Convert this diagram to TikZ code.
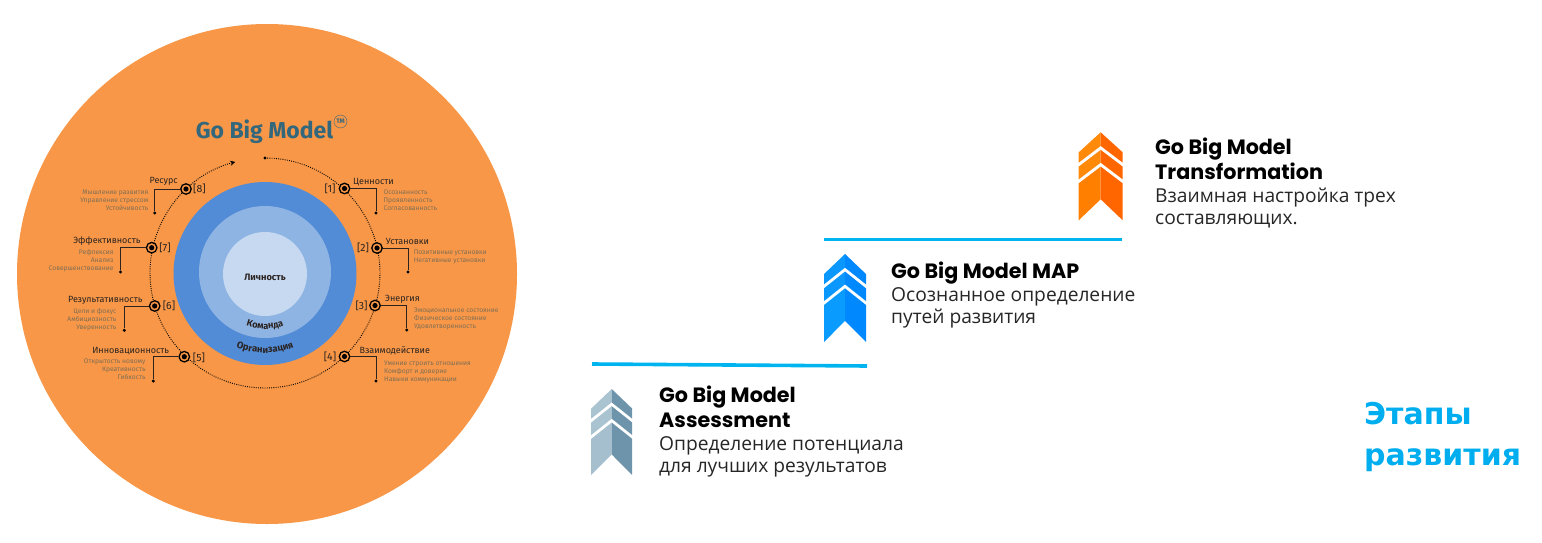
\documentclass[tikz,border=0pt]{standalone}
\usepackage{fontspec}
\usetikzlibrary{decorations.text,arrows.meta}
\setmainfont{Open Sans}
\newfontfamily\modelfont{Fira Sans}
\newfontfamily\headfont{Poppins}
\newfontfamily\stagesfont{DejaVu Sans}
\definecolor{disc}{HTML}{F89747}
\definecolor{orgblue}{HTML}{528BD6}
\definecolor{teamblue}{HTML}{8EB4E3}
\definecolor{selfblue}{HTML}{C6D9F1}
\definecolor{modelteal}{HTML}{33677C}
\definecolor{labeldark}{HTML}{2A2320}
\definecolor{subgray}{HTML}{7F6E55}
\definecolor{ruleblue}{HTML}{00B4F0}
\definecolor{stagesblue}{HTML}{00AEEF}
\definecolor{graytop}{HTML}{A9C3D1}
\definecolor{graydark}{HTML}{6E94AB}
\definecolor{graylow}{HTML}{A5BFCE}
\definecolor{bluetop}{HTML}{0A98FF}
\definecolor{bluedark}{HTML}{0088FF}
\definecolor{bluelow}{HTML}{0A9BFF}
\definecolor{orangetop}{HTML}{FF8A0A}
\definecolor{orangedark}{HTML}{FF6600}
\definecolor{orangelow}{HTML}{FF8000}
\tikzset{
    target/.style={circle,draw=black,line width=1.3pt,fill=disc,inner sep=0pt,minimum size=10.5pt,
        path picture={\fill[black] (path picture bounding box.center) circle (2.6);}},
    enddot/.style={circle,fill=black,inner sep=0pt,minimum size=3.4pt},
    numlabel/.style={font=\modelfont\fontsize{10.5}{12}\selectfont,text=labeldark,inner sep=0pt},
    mainlabel/.style={font=\modelfont\fontsize{9}{11}\selectfont,text=labeldark,inner sep=0pt},
    sublabel/.style={font=\modelfont\fontsize{6.7}{8}\selectfont,text=subgray,inner sep=0pt},
    leader/.style={draw=labeldark,line width=0.6pt},
    headtext/.style={font=\headfont\bfseries\fontsize{20.7}{24.5}\selectfont,text=black,inner sep=0pt,align=left},
    bodytext/.style={font=\fontsize{19.2}{22}\selectfont,text=black!85,inner sep=0pt,align=left},
    steprule/.style={draw=ruleblue,line width=3.6pt}
}
% one stack of three chevrons: apex x, apex y, half width, height, colours
\newcommand{\chevrons}[7]{
    \begin{scope}[shift={(#1,#2)},x=#3pt,y=-#4pt]
        \fill[#5] (0,0) -- (-1,0.228) -- (-1,0.345) -- (0,0.155) -- cycle;
        \fill[#6] (0,0) -- (1,0.228) -- (1,0.345) -- (0,0.155) -- cycle;
        \fill[#5] (0,0.2) -- (-1,0.39) -- (-1,0.535) -- (0,0.345) -- cycle;
        \fill[#6] (0,0.2) -- (1,0.39) -- (1,0.535) -- (0,0.345) -- cycle;
        \fill[#7] (0,0.39) -- (-1,0.58) -- (-1,1) -- (0,0.761) -- cycle;
        \fill[#6] (0,0.39) -- (1,0.58) -- (1,1) -- (0,0.761) -- cycle;
    \end{scope}
}
\begin{document}
\begin{tikzpicture}[x=1pt,y=-1pt]
    \useasboundingbox (0,0) rectangle (1542,543);

    \fill[disc] (267,274) circle (250);
    \fill[orgblue] (265,273.5) circle (91.5);
    \fill[teamblue] (265,272) circle (66);
    \fill[selfblue] (265,274) circle (42);

    \node[font=\modelfont\bfseries\fontsize{9.3}{10}\selectfont,text=labeldark,inner sep=0pt] (self) at (265,277) {Личность};
    \path[postaction={decorate},decoration={text along path,text align=center,
        text={|\modelfont\bfseries\fontsize{9.3}{10}\selectfont\color{labeldark}|Команда}}]
        (265,274) ++(135:55) arc (135:45:55);
    \path[postaction={decorate},decoration={text along path,text align=center,
        text={|\modelfont\bfseries\fontsize{9.5}{10}\selectfont\color{labeldark}|Организация}}]
        (265,274) ++(130:79) arc (130:50:79);

    \node[font=\modelfont\bfseries\fontsize{23}{26}\selectfont,text=modelteal,inner sep=0pt] (model) at (264.5,132) {Go Big Model};
    \node[circle,draw=modelteal,line width=0.4pt,inner sep=0pt,minimum size=13pt,
        font=\modelfont\bfseries\fontsize{6.5}{7}\selectfont,text=modelteal] (tm) at (340.5,121.5) {TM};

    % dotted ring with the eight points on it
    \node[enddot] (ringstart) at (265,158) {};
    \draw[line width=0.9pt,dash pattern=on 0.9pt off 1.3pt,-{Stealth[length=5pt,width=5pt]}]
        (ringstart.center) arc (-90:255:115);

    \node[target] (t1) at (344.5,188.5) {};
    \node[target] (t2) at (377,248) {};
    \node[target] (t3) at (375,305.5) {};
    \node[target] (t4) at (344.5,356.5) {};
    \node[target] (t5) at (184.3,356.7) {};
    \node[target] (t6) at (154.7,306) {};
    \node[target] (t7) at (151.7,247.7) {};
    \node[target] (t8) at (186,189) {};

    \node[numlabel] (n1) at (330,189) {[1]};
    \node[numlabel] (n2) at (363,248) {[2]};
    \node[numlabel] (n3) at (361.5,305.5) {[3]};
    \node[numlabel] (n4) at (330,357) {[4]};
    \node[numlabel] (n5) at (199,357.5) {[5]};
    \node[numlabel] (n6) at (169,306) {[6]};
    \node[numlabel] (n7) at (165,248) {[7]};
    \node[numlabel] (n8) at (199.5,189) {[8]};

    \node[mainlabel,anchor=west] (l1) at (353,182) {Ценности};
    \node[mainlabel,anchor=west] (l2) at (385.7,241) {Установки};
    \node[mainlabel,anchor=west] (l3) at (385,299) {Энергия};
    \node[mainlabel,anchor=west] (l4) at (359.5,351) {Взаимодействие};
    \node[mainlabel,anchor=east] (l5) at (169.3,350.7) {Инновационность};
    \node[mainlabel,anchor=east] (l6) at (142.7,300) {Результативность};
    \node[mainlabel,anchor=east] (l7) at (140.7,241) {Эффективность};
    \node[mainlabel,anchor=east] (l8) at (178,181.5) {Ресурс};

    \node[sublabel,anchor=north west,align=left] (s1) at (383.5,189.5) {Осознанность\\Проявленность\\Согласованность};
    \node[sublabel,anchor=north west,align=left] (s2) at (413.7,249.5) {Позитивные установки\\Негативные установки};
    \node[sublabel,anchor=north west,align=left] (s3) at (414,308) {Эмоциональное состояние\\Физическое состояние\\Удовлетворенность};
    \node[sublabel,anchor=north west,align=left] (s4) at (384,361) {Умение строить отношения\\Комфорт и доверие\\Навыки коммуникации};
    \node[sublabel,anchor=north east,align=right] (s5) at (145.7,359) {Открытость новому\\Креативность\\Гибкость};
    \node[sublabel,anchor=north east,align=right] (s6) at (116.5,308.5) {Цели и фокус\\Амбициозность\\Уверенность};
    \node[sublabel,anchor=north east,align=right] (s7) at (113.7,249.5) {Рефлексия\\Анализ\\Совершенствование};
    \node[sublabel,anchor=north east,align=right] (s8) at (148.5,189.5) {Мышление развития\\Управление стрессом\\Устойчивость};

    \node[enddot] (d1) at (376,213) {};
    \node[enddot] (d2) at (408,272) {};
    \node[enddot] (d3) at (406.7,330) {};
    \node[enddot] (d4) at (376,381) {};
    \node[enddot] (d5) at (153.3,381) {};
    \node[enddot] (d6) at (124.3,330.3) {};
    \node[enddot] (d7) at (120.5,272) {};
    \node[enddot] (d8) at (154.7,213) {};

    \draw[leader] (t1) -| (d1);
    \draw[leader] (t2) -| (d2);
    \draw[leader] (t3) -| (d3);
    \draw[leader] (t4) -| (d4);
    \draw[leader] (t5) -| (d5);
    \draw[leader] (t6) -| (d6);
    \draw[leader] (t7) -| (d7);
    \draw[leader] (t8) -| (d8);

    % the three stages
    \coordinate (rule1a) at (592,364);
    \coordinate (rule1b) at (867,366);
    \coordinate (rule2a) at (824,239.5);
    \coordinate (rule2b) at (1122,239.5);
    \draw[steprule] (rule1a) -- (rule1b);
    \draw[steprule] (rule2a) -- (rule2b);

    \chevrons{611.7}{389}{20.5}{86}{graytop}{graydark}{graylow}
    \chevrons{845}{254}{21}{88}{bluetop}{bluedark}{bluelow}
    \chevrons{1100.7}{132.3}{22}{88}{orangetop}{orangedark}{orangelow}

    \node[headtext,anchor=north west] (assesshead) at (659,386) {Go Big Model\\Assessment};
    \node[bodytext,anchor=north west] (assessbody) at (659,436.5) {Определение потенциала\\для лучших результатов};
    \node[headtext,anchor=north west] (maphead) at (891,262) {Go Big Model MAP};
    \node[bodytext,anchor=north west] (mapbody) at (891,287.5) {Осознанное определение\\путей развития};
    \node[headtext,anchor=north west] (transhead) at (1155,138) {Go Big Model\\Transformation};
    \node[bodytext,anchor=north west] (transbody) at (1155,188) {Взаимная настройка трех\\составляющих.};

    \node[font=\stagesfont\bfseries\fontsize{30}{41}\selectfont,text=stagesblue,inner sep=0pt,align=left,anchor=north west] (stages) at (1364,402) {Этапы\\развития};
\end{tikzpicture}
\end{document}
